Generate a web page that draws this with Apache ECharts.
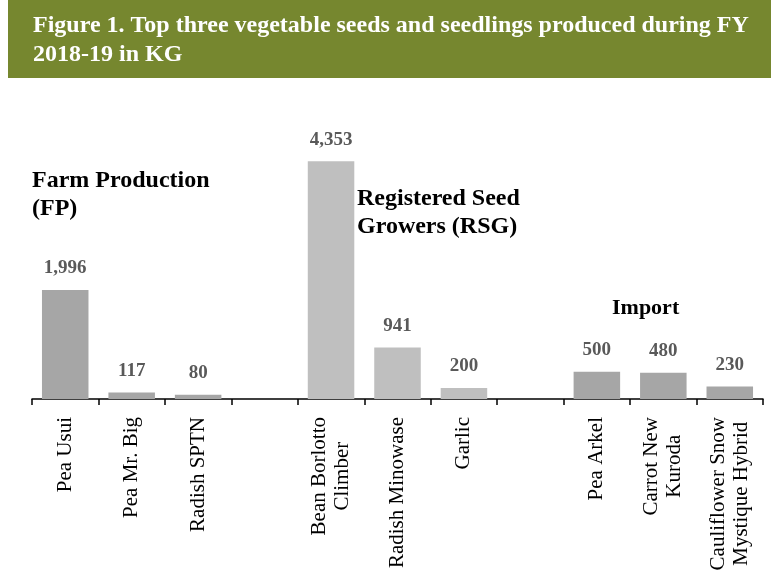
<!DOCTYPE html>
<html>
<head>
<meta charset="utf-8">
<script src="https://cdn.jsdelivr.net/npm/echarts@6/dist/echarts.min.js"></script>
<style>
  html, body { margin: 0; padding: 0; background: #fff; }
  #main { width: 771px; height: 579px; }
</style>
</head>
<body>
<div id="main"></div>
<script>
// categories (blank entries are the gaps between groups)
var categories = ['Pea Usui', 'Pea Mr. Big', 'Radish SPTN', ' ',
  'Bean Borlotto\nClimber', 'Radish Minowase', 'Garlic', '  ',
  'Pea Arkel', 'Carrot New\nKuroda', 'Cauliflower Snow\nMystique Hybrid'];
var values = [1996, 117, 80, '-', 4353, 941, 200, '-', 500, 480, 230];
var rsgItems = ['Bean Borlotto\nClimber', 'Radish Minowase', 'Garlic'];
var groupLabels = ['Farm Production\n(FP)', 'Registered Seed\nGrowers (RSG)', 'Import'];

var dom = document.getElementById('main');
var myChart = echarts.init(dom, null, { renderer: 'canvas' });

var option = {
  animation: false,
  title: {
    text: 'Figure 1. Top three vegetable seeds and seedlings produced during FY\n2018-19 in KG',
    left: 28,
    top: 6,
    textStyle: {
      color: '#fff',
      fontFamily: 'Liberation Serif',
      fontWeight: 'bold',
      fontSize: 24,
      lineHeight: 29
    }
  },
  graphic: [
    {
      type: 'rect', left: 8, top: 0, z: -1,
      shape: { width: 763, height: 78 },
      style: { fill: '#76872f' }
    },
    {
      type: 'text', left: 32, top: 167,
      style: { text: groupLabels[0], font: 'bold 24px "Liberation Serif"', fill: '#000', lineHeight: 28 }
    },
    {
      type: 'text', left: 357, top: 185,
      style: { text: groupLabels[1], font: 'bold 24px "Liberation Serif"', fill: '#000', lineHeight: 28 }
    },
    {
      type: 'text', left: 612, top: 297,
      style: { text: groupLabels[2], font: 'bold 22px "Liberation Serif"', fill: '#000' }
    }
  ],
  grid: { left: 32, right: 8, top: 126, bottom: 180, containLabel: false },
  xAxis: {
    type: 'category',
    data: categories,
    axisLine: { lineStyle: { color: '#000', width: 1.5 } },
    axisTick: { show: true, length: 6, lineStyle: { color: '#000', width: 1.5 } },
    axisLabel: {
      interval: 0,
      rotate: 90,
      margin: 18,
      color: '#000',
      fontFamily: 'Liberation Serif',
      fontSize: 21,
      lineHeight: 23,
      formatter: function (v) {
        return v.split('\n').map(function (s) { return '{c|' + s + '}'; }).join('\n');
      },
      rich: {
        c: { align: 'center', fontFamily: 'Liberation Serif', fontSize: 21, lineHeight: 23, color: '#000' }
      }
    }
  },
  yAxis: {
    type: 'value',
    min: 0,
    max: 5000,
    show: false,
    splitLine: { show: false }
  },
  series: [{
    type: 'bar',
    data: values,
    barWidth: '70%',
    itemStyle: {
      color: function (p) {
        return rsgItems.indexOf(p.name) >= 0 ? '#bfbfbf' : '#a6a6a6';
      }
    },
    label: {
      show: true,
      position: 'top',
      distance: 12,
      color: '#595959',
      fontFamily: 'Liberation Serif',
      fontWeight: 'bold',
      fontSize: 19,
      formatter: function (p) {
        return Number(p.value).toLocaleString('en-US');
      }
    }
  }]
};

myChart.setOption(option);
window.addEventListener('resize', myChart.resize);
</script>
</body>
</html>
